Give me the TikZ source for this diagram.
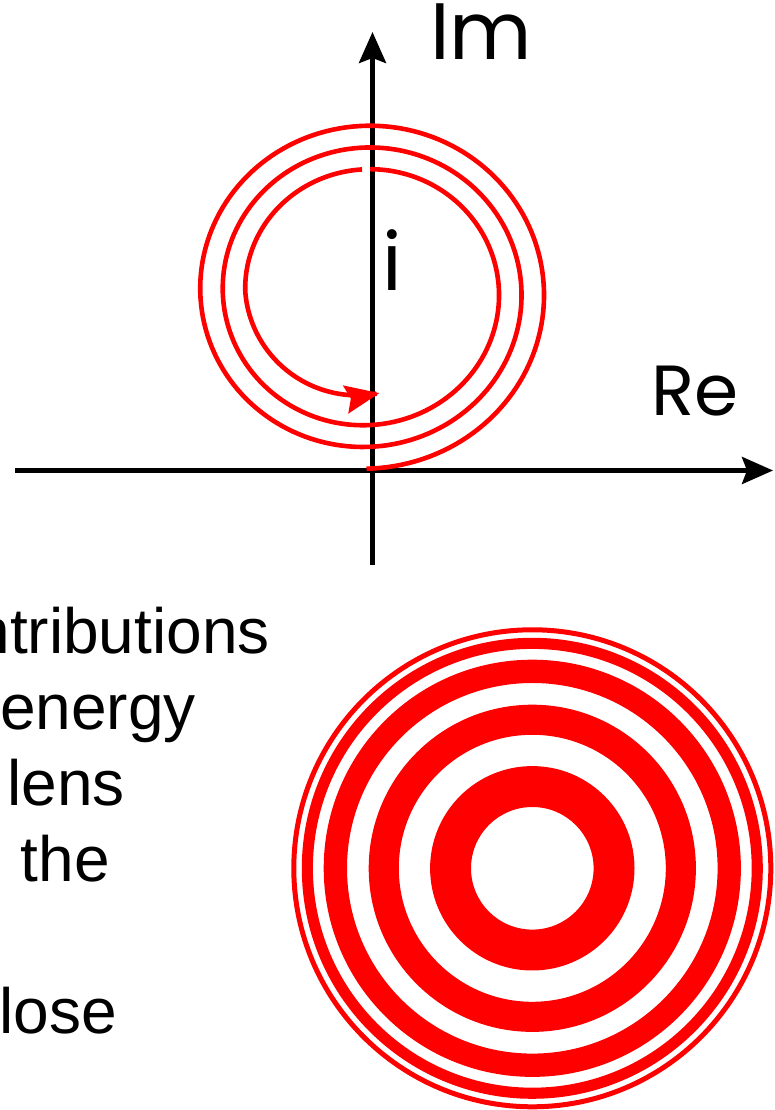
\documentclass[tikz,border=0pt]{standalone}
\usepackage{fontspec}
\setmainfont{Liberation Sans}
\newfontfamily\labelfont{Poppins}
\usetikzlibrary{arrows.meta}

\begin{document}
\begin{tikzpicture}[
        x = 1pt, y = 1pt,
        axis/.style = {line width=4.5pt, -{Stealth[length=31pt, width=27pt, inset=5pt]}},
        spiral/.style = {red, line width=4.6pt},
        tipped/.style = {-{Stealth[length=34pt, width=28pt, inset=5pt]}},
        axislabel/.style = {font=\labelfont\fontsize{80}{96}\selectfont, inner sep=0pt, anchor=base west},
        body/.style = {font=\fontsize{64}{76}\selectfont, inner sep=0pt, anchor=base east}
    ]
    \useasboundingbox (0,0) rectangle (775,1110);

    % axes of the complex plane
    \coordinate (xfrom) at (15,639.5);
    \coordinate (xto) at (773,639.5);
    \coordinate (yfrom) at (372.5,545);
    \coordinate (yto) at (372.5,1078);
    \draw[axis] (xfrom) -- (xto);
    \draw[axis] (yfrom) -- (yto);

    \node[axislabel] (imlabel) at (430,1050) {Im};
    \node[axislabel, font=\labelfont\fontsize{71}{85}\selectfont] (relabel) at (651,694) {Re};
    \node[axislabel] (ilabel) at (382,819) {i};

    % spiral of the zone contributions
    \draw[spiral] plot[domain=-90:808.4, samples=400, variable=\t]
        ({366.5+(177.5-0.0625*\t)*cos(\t)}, {818.2+0.966*(177.5-0.0625*\t)*sin(\t)});
    \draw[spiral, tipped] plot[domain=812:997, samples=120, variable=\t]
        ({366.5+(177.5-0.0625*\t-0.098*max(0,\t-900))*cos(\t)},
         {818.2+0.966*(177.5-0.0625*\t-0.098*max(0,\t-900))*sin(\t)});

    % text
    \node[body] (line1) at (270,456) {ntributions};
    \node[body] (line2) at (196,380) {energy};
    \node[body] (line3) at (125,304) {lens};
    \node[body] (line4) at (110,228) {the};
    \node[body] (line5) at (117,76) {lose};

    % zone plate
    \coordinate (plate) at (532.3,241.7);
    \foreach \rin/\rout in {61.3/102.2, 133.5/163.6, 185.3/208.6, 219.4/230.5, 236/241}
        \fill[red, even odd rule] (plate) circle[radius=\rout] circle[radius=\rin];
\end{tikzpicture}
\end{document}
